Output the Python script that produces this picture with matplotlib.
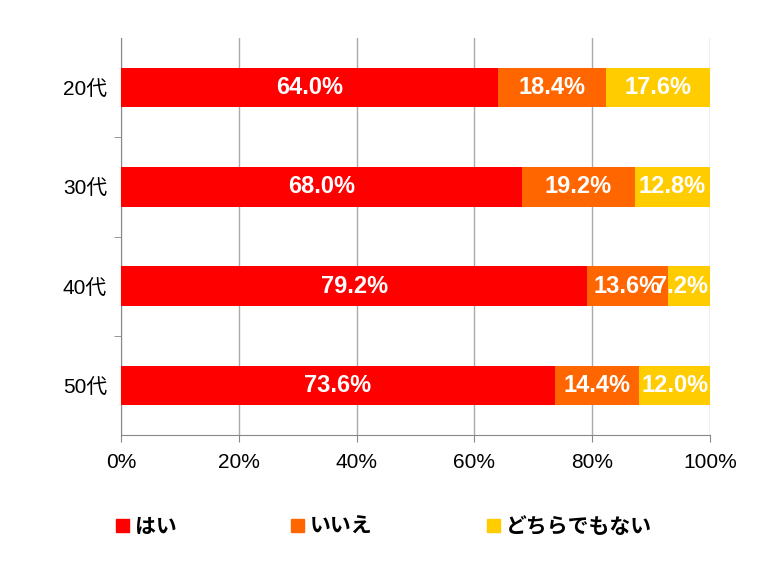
import matplotlib
matplotlib.use("Agg")
import matplotlib.pyplot as plt
from matplotlib.patches import Patch

categories = ["20代", "30代", "40代", "50代"]
series_names = ["はい", "いいえ", "どちらでもない"]
hai = [64.0, 68.0, 79.2, 73.6]
iie = [18.4, 19.2, 13.6, 14.4]
dochira = [17.6, 12.8, 7.2, 12.0]
colors = ["#FF0000", "#FF6600", "#FFCC00"]
xticks = [0, 20, 40, 60, 80, 100]

plt.rcParams["font.family"] = ["Liberation Sans", "Noto Sans CJK JP"]
fig = plt.figure(figsize=(7.68, 5.69), dpi=100)
ax = fig.add_axes([121/768, 1-435/569, 589/768, 397/569])
ys = list(range(len(categories)))
left = [0]*len(categories)
for vals, c in zip([hai, iie, dochira], colors):
    ax.barh(ys, vals, left=left, height=0.4, color=c, zorder=3)
    for y, l, v in zip(ys, left, vals):
        if v < 10:
            ax.text(l + v - 0.3, y, f"{v:.1f}%", color="white", ha="right", va="center",
                    fontsize=17, fontweight="bold", zorder=4)
        else:
            ax.text(l + v/2, y, f"{v:.1f}%", color="white", ha="center", va="center",
                    fontsize=17, fontweight="bold", zorder=4)
    left = [a+b for a, b in zip(left, vals)]
ax.set_xlim(0, 100)
ax.set_ylim(3.5, -0.5)
ax.set_xticks(xticks)
ax.set_xticklabels([f"{t}%" for t in xticks], fontsize=15)
ax.set_yticks(ys)
ax.set_yticklabels(categories, fontsize=15)
ax.tick_params(axis="y", length=0, pad=10)
ax.tick_params(axis="x", length=5, color="#888888", pad=8)
ax.set_yticks([0.5, 1.5, 2.5], minor=True)
ax.tick_params(axis="y", which="minor", length=5, color="#888888")
ax.grid(axis="x", color="#aaaaaa", linewidth=1, zorder=0)
for s in ["top", "right"]:
    ax.spines[s].set_visible(False)
ax.spines["left"].set_color("#888888")
ax.spines["bottom"].set_color("#888888")
handles = [Patch(color=c) for c in colors]
fig.legend(handles, series_names, loc="center", bbox_to_anchor=(0.5, 1-527/569),
           ncol=3, frameon=False, handlelength=0.6, handleheight=0.6,
           columnspacing=5.5, handletextpad=0.3, prop={"weight": "bold", "size": 15})
fig.savefig("out.png", dpi=100)
